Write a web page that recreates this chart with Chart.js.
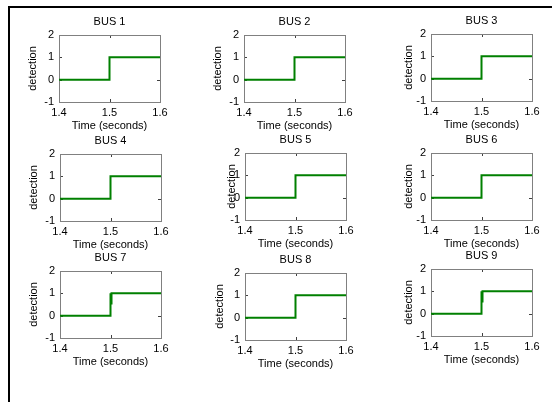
<!DOCTYPE html>
<html>
<head>
<meta charset="utf-8">
<script src="https://cdn.jsdelivr.net/npm/chart.js@4.4.0/dist/chart.umd.min.js"></script>
<style>
  html, body { margin: 0; padding: 0; background: #fff; width: 552px; height: 402px; overflow: hidden; }
  #frame { position: absolute; left: 8px; top: 6px; width: 560px; height: 400px; border-left: 2px solid #000; border-top: 2px solid #000; }
  .cell { position: absolute; }
</style>
</head>
<body>
<div id="frame"></div>
<script>
// data
var busNames = ['BUS 1', 'BUS 2', 'BUS 3', 'BUS 4', 'BUS 5', 'BUS 6', 'BUS 7', 'BUS 8', 'BUS 9'];
var timeTicks = [1.4, 1.5, 1.6];
var detectionTicks = [-1, 0, 1, 2];
var stepTime = [1.4, 1.5, 1.5, 1.6];
var stepDetection = [0, 0, 1, 1];
var transientTime = [1.4, 1.5, 1.5, 1.502, 1.502, 1.6];
var transientDetection = [0, 0, 1, 0.5, 1, 1];
var busTransient = [false, false, false, false, false, false, true, false, true];

// layout of each subplot box (pixels)
var boxLeft = [59, 244, 431, 60, 245, 431, 60, 245, 431];
var boxTop = [35, 35, 34, 154, 153, 153, 271, 273, 269];
var boxW = 101, boxH = 67;
var labelGap = [26, 26, 22, 26, 13, 22, 26, 25, 22];
var L = 50, R = 16, T = 26, B = 36;

var font = { family: "'Liberation Sans', Arial, sans-serif", size: 11 };

var boxPlugin = {
    id: 'matlabBox',
    beforeDatasetsDraw: function (chart) {
        var ctx = chart.ctx, a = chart.chartArea;
        var xs = chart.scales.x, ys = chart.scales.y;
        ctx.save();
        ctx.strokeStyle = '#404040';
        ctx.lineWidth = 1;
        ctx.beginPath();
        timeTicks.forEach(function (v) {
            var px = Math.round(xs.getPixelForValue(v)) + 0.5;
            ctx.moveTo(px, a.top); ctx.lineTo(px, a.top + 3);
            ctx.moveTo(px, a.bottom); ctx.lineTo(px, a.bottom - 3);
        });
        detectionTicks.forEach(function (v) {
            var py = Math.round(ys.getPixelForValue(v)) + 0.5;
            ctx.moveTo(a.left, py); ctx.lineTo(a.left + 3, py);
            ctx.moveTo(a.right, py); ctx.lineTo(a.right - 3, py);
        });
        ctx.stroke();
        ctx.strokeStyle = '#808080';
        ctx.strokeRect(Math.round(a.left) + 0.5, Math.round(a.top) + 0.5,
            Math.round(a.right - a.left), Math.round(a.bottom - a.top));
        ctx.restore();
    },
    afterDraw: function (chart) {
        var ctx = chart.ctx, a = chart.chartArea;
        ctx.save();
        ctx.fillStyle = '#000';
        ctx.font = '11px ' + font.family;
        ctx.textAlign = 'center';
        ctx.textBaseline = 'middle';
        ctx.fillText(chart.options.plugins.busTitle, (a.left + a.right) / 2, a.top - 13);
        ctx.restore();
    }
};

busNames.forEach(function (name, i) {
    var div = document.createElement('div');
    div.className = 'cell';
    var w = L + boxW + R, h = T + boxH + B;
    div.style.left = (boxLeft[i] - L) + 'px';
    div.style.top = (boxTop[i] - T) + 'px';
    div.style.width = w + 'px';
    div.style.height = h + 'px';
    var canvas = document.createElement('canvas');
    div.appendChild(canvas);
    document.body.appendChild(div);

    var tx = busTransient[i] ? transientTime : stepTime;
    var ty = busTransient[i] ? transientDetection : stepDetection;
    var points = tx.map(function (t, k) { return { x: t, y: ty[k] }; });

    new Chart(canvas.getContext('2d'), {
        type: 'line',
        data: {
            datasets: [{
                data: points,
                borderColor: '#008000',
                borderWidth: 2,
                pointRadius: 0,
                tension: 0,
                fill: false
            }]
        },
        options: {
            responsive: true,
            maintainAspectRatio: false,
            animation: false,
            layout: { padding: { left: 0, right: R, top: T, bottom: 0 } },
            plugins: {
                legend: { display: false },
                tooltip: { enabled: false },
                busTitle: name
            },
            scales: {
                x: {
                    type: 'linear',
                    min: 1.4, max: 1.6,
                    grid: { display: false, drawTicks: false },
                    border: { display: false },
                    afterBuildTicks: function (s) { s.ticks = timeTicks.map(function (v) { return { value: v }; }); },
                    afterFit: function (s) { s.height = B; },
                    ticks: {
                        color: '#000', font: font, padding: 4,
                        maxRotation: 0, minRotation: 0, autoSkip: false,
                        callback: function (v) { return Number(v).toFixed(1); }
                    },
                    title: { display: true, text: 'Time (seconds)', color: '#000', font: font, padding: { top: 0, bottom: B - 24 - 6.6 } }
                },
                y: {
                    min: -1, max: 2,
                    grid: { display: false, drawTicks: false },
                    border: { display: false },
                    afterBuildTicks: function (s) { s.ticks = detectionTicks.map(function (v) { return { value: v }; }); },
                    afterFit: function (s) { s.width = L; },
                    ticks: { color: '#000', font: font, padding: 5, autoSkip: false },
                    title: { display: true, text: 'detection', color: '#000', font: font, padding: { top: L - labelGap[i] - 6.6, bottom: 0 } }
                }
            }
        },
        plugins: [boxPlugin]
    });
});
</script>
</body>
</html>
